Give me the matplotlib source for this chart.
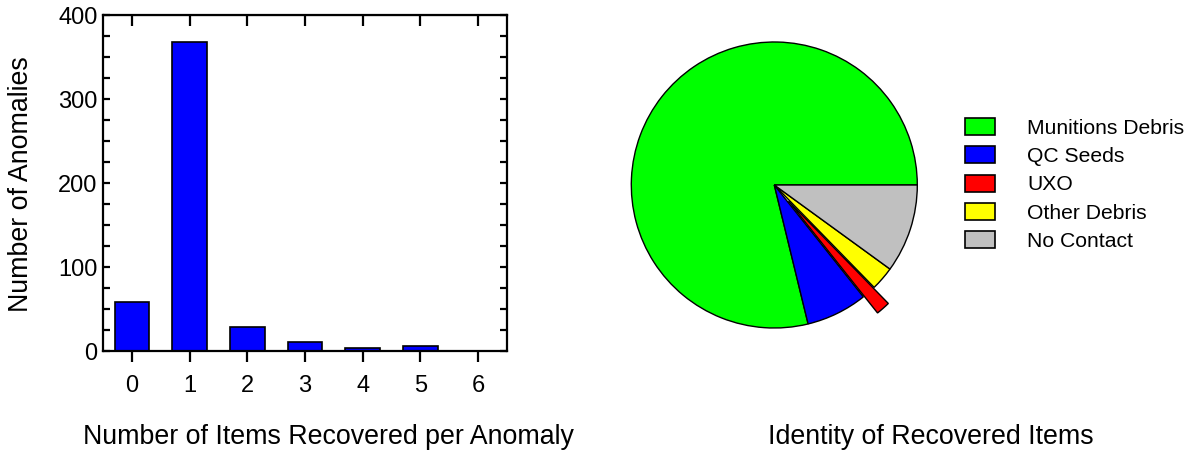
import matplotlib.pyplot as plt
from matplotlib.ticker import MultipleLocator
from matplotlib.patches import Patch

plt.rcParams['font.family'] = ['Liberation Sans', 'DejaVu Sans']

# Bar chart data
items_recovered = [0, 1, 2, 3, 4, 5, 6]
anomaly_counts = [58, 368, 28, 11, 3, 6, 0]

# Pie chart data (percent of recovered items)
item_types = ["Munitions Debris", "QC Seeds", "UXO", "Other Debris", "No Contact"]
item_shares = [78.8, 6.9, 1.6, 2.7, 10.0]
item_colors = ["#00FF00", "#0000FF", "#FF0000", "#FFFF00", "#C0C0C0"]

W, H = 1193, 453
fig = plt.figure(figsize=(W / 100, H / 100), dpi=100)

# ---- bar chart ----
ax = fig.add_axes([103 / W, 1 - 351 / H, 404 / W, 336 / H])
ax.bar(items_recovered, anomaly_counts, width=0.6, color="#0000FF",
       edgecolor="black", linewidth=1.2)
ax.set_xlim(-0.5, 6.5)
ax.set_ylim(0, 400)
ax.set_xticks(items_recovered)
ax.yaxis.set_major_locator(MultipleLocator(100))
ax.yaxis.set_minor_locator(MultipleLocator(25))
for s in ax.spines.values():
    s.set_linewidth(1.6)
ax.tick_params(axis="x", direction="out", length=8, width=1.6, labelsize=17, pad=9)
ax.tick_params(axis="y", which="both", direction="in", length=5, width=1.6,
               left=True, right=True, labelsize=17, pad=4)
top = ax.secondary_xaxis("top")
top.set_xticks(items_recovered)
top.tick_params(direction="in", length=8, width=1.6, labelbottom=False, labeltop=False)

fig.text(328 / W, 1 - 437 / H, "Number of Items Recovered per Anomaly",
         ha="center", va="center", fontsize=19.3)
fig.text(21 / W, 1 - 184 / H, "Number of Anomalies", rotation=90,
         ha="center", va="center", fontsize=19.3)

# ---- pie chart ----
cx, cy, r = 774.3, 185, 143
pax = fig.add_axes([(cx - r) / W, 1 - (cy + r) / H, 2 * r / W, 2 * r / H])
wedges, _ = pax.pie(item_shares, colors=item_colors, startangle=0,
                    counterclock=True, explode=[0, 0, 0.15, 0, 0],
                    wedgeprops=dict(edgecolor="black", linewidth=1.0))
for w in wedges:
    w.set_clip_on(False)
pax.set_xlim(-1, 1)
pax.set_ylim(-1, 1)
pax.set_aspect("equal")
pax.axis("off")

fig.text(931 / W, 1 - 437 / H, "Identity of Recovered Items",
         ha="center", va="center", fontsize=19.3)

handles = [Patch(facecolor=c, edgecolor="black", linewidth=1.2) for c in item_colors]
fig.legend(handles, item_types, loc="upper left",
           bbox_to_anchor=(965 / W, 1 - 118 / H), bbox_transform=fig.transFigure,
           frameon=False, fontsize=15.2, handlelength=1.43, handleheight=0.87,
           handletextpad=1.51, labelspacing=0.40, borderpad=0, borderaxespad=0)

fig.savefig("out.png", dpi=100)
